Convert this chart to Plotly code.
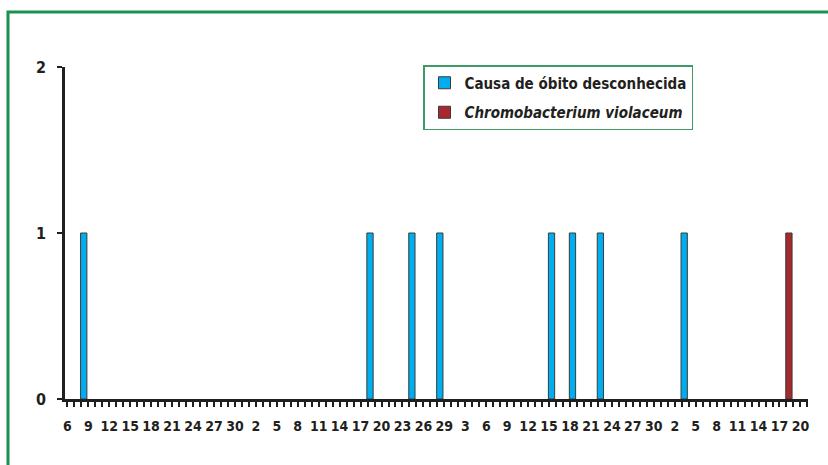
import plotly.graph_objects as go

# ---- data ----
unknown_dates = ["2008-01-08", "2008-02-18", "2008-02-24", "2008-02-28",
                 "2008-03-15", "2008-03-18", "2008-03-22", "2008-04-03"]
unknown_counts = [1, 1, 1, 1, 1, 1, 1, 1]
violaceum_dates = ["2008-04-18"]
violaceum_counts = [1]
y_ticks = [0, 1, 2]
first_day = "2008-01-06"  # 2008: leap year (axis shows Feb 29)

DAY = 86400000
W, H = 828, 465
L, R, T, B = 65, 808, 67, 399  # plot area in pixels

def px(x):
    return (x - L) / (R - L)

def py(y):
    return (B - y) / (B - T)

FONT = "Liberation Sans Narrow, DejaVu Sans Condensed, Arial Narrow, sans-serif"
INK = "#231f20"

fig = go.Figure()
fig.add_trace(go.Bar(
    x=unknown_dates, y=unknown_counts, name="Causa de óbito desconhecida",
    legendgroup="a",
    marker=dict(color="#00aeef", line=dict(color="#3a3a3a", width=1)),
    width=0.9 * DAY, offset=-0.1 * DAY,
))
fig.add_trace(go.Bar(
    x=violaceum_dates, y=violaceum_counts, name="<i>Chromobacterium violaceum</i>",
    legendgroup="b",
    marker=dict(color="#a7282e", line=dict(color="#3a3a3a", width=1)),
    width=0.9 * DAY, offset=-0.1 * DAY,
))

fig.update_layout(
    width=W, height=H,
    margin=dict(l=L, r=W - R, t=T, b=H - B, pad=0),
    paper_bgcolor="white", plot_bgcolor="white",
    font=dict(family=FONT, color=INK, size=14, weight="bold"),
    showlegend=True,
    legend=dict(
        x=px(423), y=py(65), xanchor="left", yanchor="top",
        bordercolor="#3c9b66", borderwidth=1.5, bgcolor="white",
        font=dict(family=FONT, size=15, color=INK, weight="bold"),
        itemwidth=30, tracegroupgap=7, traceorder="grouped",
    ),
    barmode="overlay",
    shapes=[dict(type="rect", xref="paper", yref="paper",
                 x0=px(8), x1=px(W + 20), y0=py(12), y1=py(H + 20),
                 line=dict(color="#199150", width=3), layer="below")],
)

fig.update_xaxes(
    type="date",
    range=["2008-01-05 16:00", "2008-04-21 02:00"],
    tick0=first_day, dtick=3 * DAY, tickformat="%-d",
    ticks="outside", ticklen=5, tickwidth=2, tickcolor=INK,
    minor=dict(dtick=DAY, tick0=first_day, ticks="outside", ticklen=5,
               tickwidth=2, tickcolor=INK, showgrid=False),
    showline=True, linecolor=INK, linewidth=2.5,
    showgrid=False, zeroline=False,
    tickfont=dict(family=FONT, size=14, color=INK, weight="bold"),
    ticklabelstandoff=7,
)
fig.update_yaxes(
    range=[0, 2], tickvals=y_ticks,
    ticks="outside", ticklen=5, tickwidth=2, tickcolor=INK,
    showline=True, linecolor=INK, linewidth=2.5,
    showgrid=False, zeroline=False,
    tickfont=dict(family=FONT, size=16, color=INK, weight="bold"),
    ticklabelstandoff=8,
)

fig.write_html("out.html",
               config={"displayModeBar": False},
               post_script="document.body.style.margin='0';document.body.style.overflow='hidden';")
